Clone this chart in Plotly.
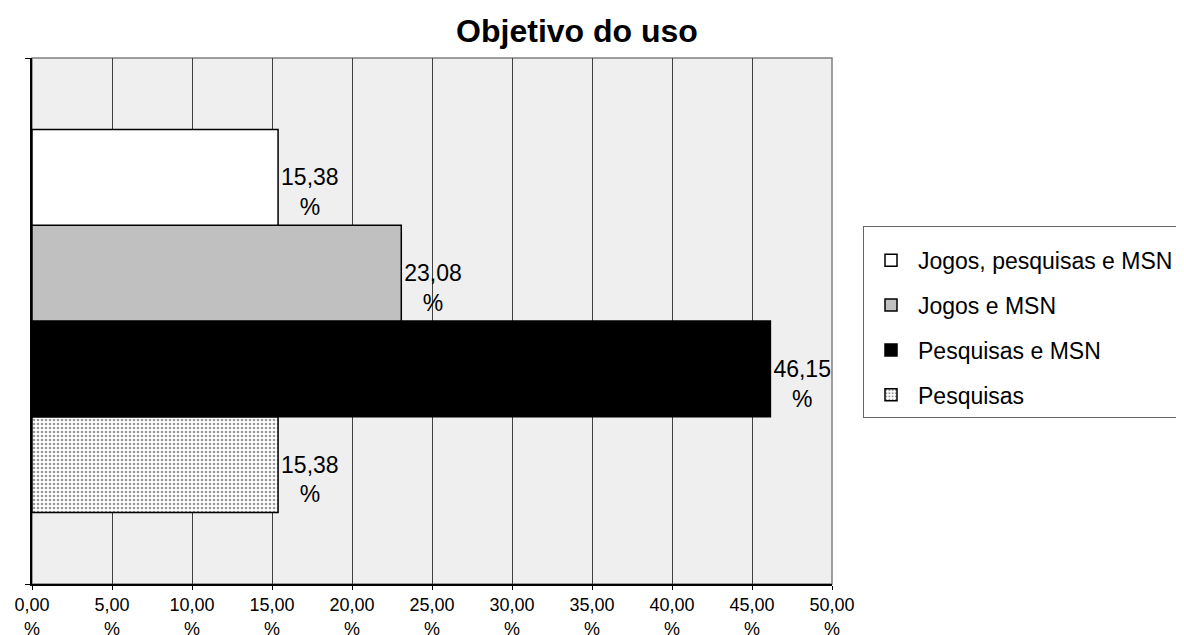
import plotly.graph_objects as go

# Data (top-to-bottom order as in the legend)
series = ["Jogos, pesquisas e MSN", "Jogos e MSN", "Pesquisas e MSN", "Pesquisas"]
values = [15.38, 23.08, 46.15, 15.38]
labels = ["15,38<br>%", "23,08<br>%", "46,15<br>%", "15,38<br>%"]
colors = ["#ffffff", "#c0c0c0", "#000000", "#ffffff"]
patterns = ["", "", "", "."]
category = [""]
tick_vals = [0, 5, 10, 15, 20, 25, 30, 35, 40, 45, 50]
tick_text = ["0,00<br>%", "5,00<br>%", "10,00<br>%", "15,00<br>%", "20,00<br>%", "25,00<br>%",
             "30,00<br>%", "35,00<br>%", "40,00<br>%", "45,00<br>%", "50,00<br>%"]

FONT = "Liberation Sans, Arial, sans-serif"
OFF = 8  # page body margin offset

fig = go.Figure()
# add bottom-first so that the first series is drawn on top
for i in reversed(range(len(series))):
    pat = dict(shape=patterns[i], fgcolor="#333333", bgcolor="#ffffff", size=4, solidity=0.35) if patterns[i] else dict(shape="")
    fig.add_trace(go.Bar(
        y=category, x=[values[i]], name=series[i], orientation="h",
        marker=dict(color=colors[i], line=dict(color="#000000", width=1.5), pattern=pat),
        text=["&nbsp;<br>" + labels[i]], textposition="outside", cliponaxis=False,
        textfont=dict(family=FONT, size=23, color="#000000"),
        legendgroup=series[i], legendrank=i + 1,
    ))

L, T, R, B = 32 - OFF, 58 - OFF, 832 - OFF, 584 - OFF
fig.update_layout(
    width=1184, height=635,
    margin=dict(l=L, r=1184 - R, t=T, b=635 - B),
    paper_bgcolor="#ffffff", plot_bgcolor="#efefef",
    barmode="group", bargap=0.272, bargroupgap=0,
    font=dict(family=FONT, size=18, color="#000000"),
    title=dict(text="<b>Objetivo do uso</b>", x=(577 - OFF) / 1184, xanchor="center",
               y=1 - (31 - OFF) / 635, yanchor="middle", font=dict(size=32, family=FONT),
               automargin=False),
    legend=dict(x=(863 - OFF - L) / (R - L), xanchor="left",
                y=(B - (226 - OFF)) / (B - T), yanchor="top",
                bordercolor="#666666", borderwidth=1, bgcolor="#ffffff",
                traceorder="grouped", tracegroupgap=12, itemwidth=44,
                title=dict(text="&nbsp;", font=dict(size=9)),
                font=dict(size=23, family=FONT)),
    showlegend=True,
)
fig.update_xaxes(range=[0, 50], tickvals=tick_vals, ticktext=tick_text, automargin=False,
                 showgrid=True, gridcolor="#404040", gridwidth=1,
                 showline=True, linecolor="#000000", linewidth=1.5,
                 ticks="outside", ticklen=4, tickcolor="#000000",
                 zeroline=False, tickfont=dict(size=18, family=FONT))
fig.update_yaxes(showticklabels=False, showgrid=False, zeroline=False, automargin=False,
                 showline=True, linecolor="#000000", linewidth=1.5,
                 ticks="outside", tickson="boundaries", ticklen=5, tickcolor="#000000")
fig.add_shape(type="rect", xref="paper", yref="paper", x0=0, x1=1, y0=0, y1=1,
              line=dict(color="#808080", width=1.5), layer="below")

fig.write_html("out.html")
